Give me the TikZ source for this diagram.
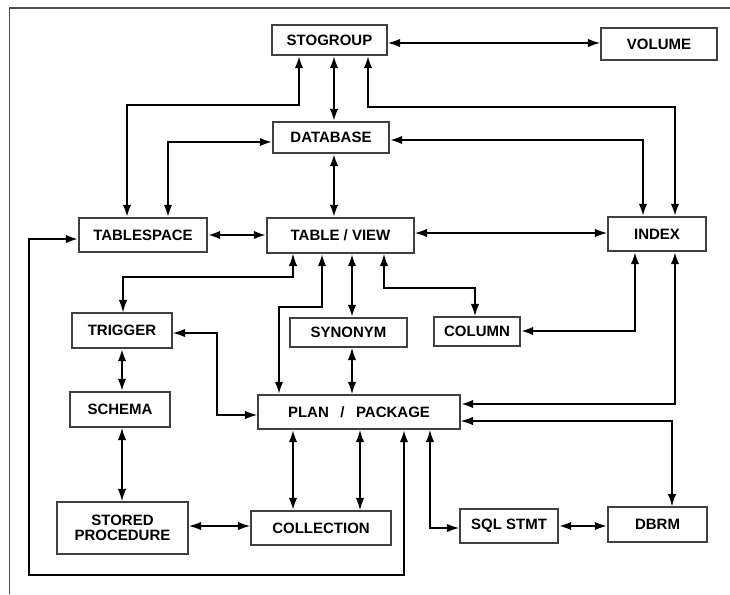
\documentclass[tikz,border=0pt]{standalone}
\usepackage{fontspec}
\setmainfont{Liberation Sans}
\usetikzlibrary{arrows.meta}
\begin{document}
\begin{tikzpicture}[x=1pt,y=-1pt,
  >={Latex[length=12.5pt,width=8.5pt]},
  box/.style={draw=black!75,line width=1.4pt,fill=white,inner sep=0pt,
    font=\bfseries\fontsize{15}{15}\selectfont,align=center},
  thn/.style={<->,line width=1.1pt},
  med/.style={<->,line width=1.7pt},
  thk/.style={<->,line width=2.4pt},
  frame/.style={draw=black!70,line width=1.3pt}]
\useasboundingbox (0,0) rectangle (730,594);
\draw[frame] (9.5,594) -- (9.5,8) -- (730,8);
% nodes
\node[box,minimum width=115pt,minimum height=30pt] (stog) at (329.5,40) {STOGROUP};
\node[box,minimum width=116pt,minimum height=32pt] (vol) at (659,44) {VOLUME};
\node[box,minimum width=116pt,minimum height=31pt] (db) at (331,137.5) {DATABASE};
\node[box,minimum width=128pt,minimum height=34pt] (ts) at (143,235) {TABLESPACE};
\node[box,minimum width=147pt,minimum height=35pt] (tv) at (340.5,235.5) {TABLE / VIEW};
\node[box,minimum width=98pt,minimum height=34pt] (idx) at (657,234) {INDEX};
\node[box,minimum width=100pt,minimum height=35pt] (trig) at (122,330.5) {TRIGGER};
\node[box,minimum width=117pt,minimum height=29pt] (syn) at (348.5,332.5) {SYNONYM};
\node[box,minimum width=86pt,minimum height=29pt] (col) at (477,331.5) {COLUMN};
\node[box,minimum width=100pt,minimum height=35pt] (sch) at (120,409.5) {SCHEMA};
\node[box,minimum width=202pt,minimum height=34pt] (plan) at (359,412) {PLAN\hspace{11.5pt}/\hspace{11.5pt}PACKAGE};
\node[box,minimum width=131pt,minimum height=52pt] (sp) at (122.5,528) {STORED\\PROCEDURE};
\node[box,minimum width=140pt,minimum height=34pt] (coll) at (321,528) {COLLECTION};
\node[box,minimum width=98pt,minimum height=34pt] (sql) at (509,526) {SQL STMT};
\node[box,minimum width=99pt,minimum height=35pt] (dbrm) at (657.5,524.5) {DBRM};
% connectors
\draw[med] (stog.east |- 0,43) -- (vol.west |- 0,43);
\draw[thk] (stog.south -| 334,0) -- (db.north -| 334,0);
\draw[thk] (stog.south -| 299,0) |- (127,105) -- (ts.north -| 127,0);
\draw[thk] (db.west |- 0,142) -| (ts.north -| 168,0);
\draw[thk] (stog.south -| 368,0) |- (675,107) -- (idx.north -| 675,0);
\draw[thk] (db.east |- 0,140) -| (idx.north -| 643,0);
\draw[thk] (db.south -| 334,0) -- (tv.north -| 334,0);
\draw[thk] (ts.east) -- (tv.west |- ts.east);
\draw[med] (tv.east |- 0,233) -- (idx.west |- 0,233);
\draw[thn] (tv.south -| 293,0) |- (123,277) -- (trig.north -| 123,0);
\draw[thk] (tv.south -| 322,0) |- (279,307) -- (plan.north -| 279,0);
\draw[thk] (tv.south -| 352,0) -- (syn.north -| 352,0);
\draw[med] (tv.south -| 384,0) |- (475,288) -- (col.north -| 475,0);
\draw[thk] (col.east |- 0,331) -| (idx.south -| 635,0);
\draw[med] (syn.south -| 352,0) -- (plan.north -| 352,0);
\draw[med] (trig.east |- 0,333) -| (217,415) -- (plan.west |- 0,415);
\draw[thk] (trig.south -| 122,0) -- (sch.north -| 122,0);
\draw[med] (sch.south -| 122,0) -- (sp.north -| 122,0);
\draw[med] (sp.east |- 0,526) -- (coll.west |- 0,526);
\draw[thk] (plan.south -| 293,0) -- (coll.north -| 293,0);
\draw[med] (plan.south -| 360,0) -- (coll.north -| 360,0);
\draw[thk] (idx.south -| 675,0) |- (plan.east |- 0,404);
\draw[thn] (plan.east |- 0,421) -| (dbrm.north -| 672,0);
\draw[med] (plan.south -| 430,0) |- (sql.west |- 0,528);
\draw[thk] (sql.east |- 0,526) -- (dbrm.west |- 0,526);
\draw[thk] (plan.south -| 404,0) |- (29,575) |- (ts.west |- 0,239);
\end{tikzpicture}
\end{document}
